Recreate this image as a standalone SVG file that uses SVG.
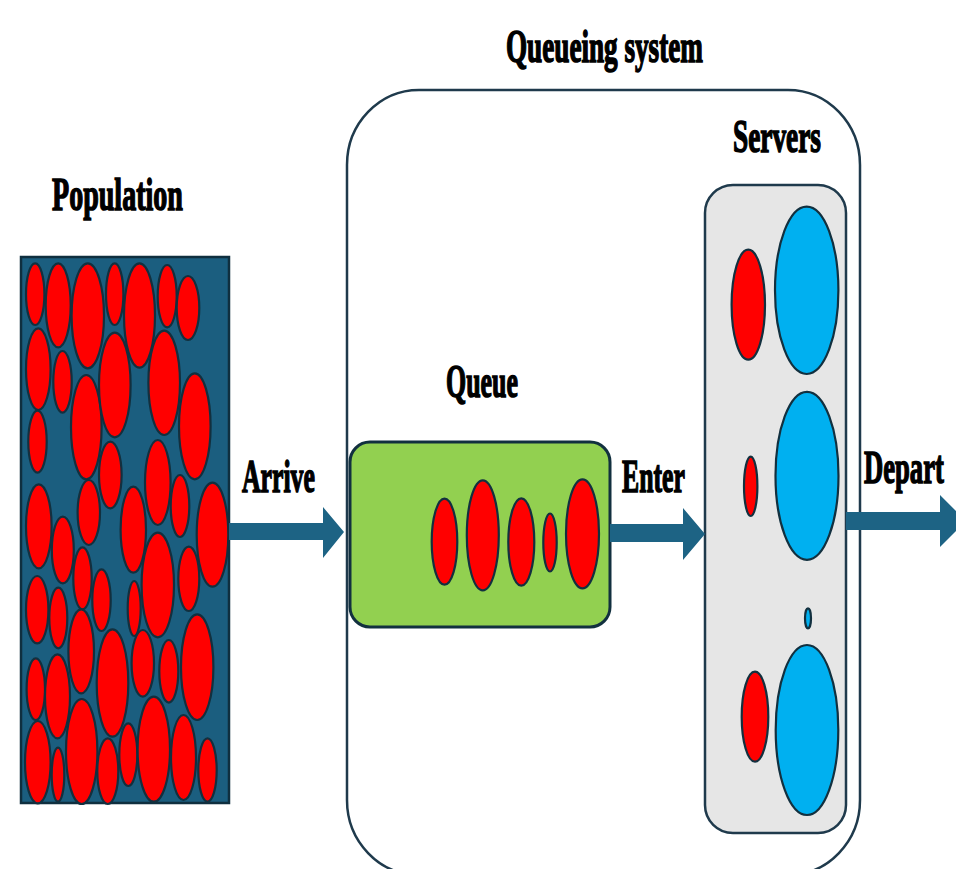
<svg xmlns="http://www.w3.org/2000/svg" width="956" height="869" viewBox="0 0 956 869">
<style>
.lbl{font-family:"Liberation Serif","DejaVu Serif",serif;font-weight:bold;font-size:47px;fill:#000;stroke:#000;stroke-width:1.6px}
.r{fill:#FF0000;stroke:#12303F;stroke-width:2.2}
.b{fill:#00B0F0;stroke:#12303F;stroke-width:2.2}
.arrow{fill:#1D6384}
</style>
<rect width="956" height="869" fill="#fff"/>
<g id="queueing-system">
<rect x="347" y="90" width="513" height="785" rx="72" ry="75" fill="#fff" stroke="#1F3A4C" stroke-width="2.5"/>
<text class="lbl" transform="translate(506,62) scale(0.578,1)">Queueing system</text>
</g>
<g id="population">
<rect x="21" y="257" width="208" height="546" fill="#1B5E7F" stroke="#0F2F3F" stroke-width="2.5"/>
<g>
<ellipse class="r" cx="35.2" cy="294.2" rx="9.2" ry="30.8"/>
<ellipse class="r" cx="58.2" cy="305.3" rx="12.5" ry="42"/>
<ellipse class="r" cx="87.8" cy="315.8" rx="16.2" ry="52.5"/>
<ellipse class="r" cx="114.7" cy="294.2" rx="8.7" ry="30.8"/>
<ellipse class="r" cx="139.5" cy="315.5" rx="15.5" ry="52.2"/>
<ellipse class="r" cx="167.2" cy="296.2" rx="9.5" ry="31.2"/>
<ellipse class="r" cx="188" cy="308" rx="11.3" ry="32"/>
<ellipse class="r" cx="38.3" cy="369.2" rx="12.3" ry="40.8"/>
<ellipse class="r" cx="62.5" cy="381.8" rx="9.2" ry="30.8"/>
<ellipse class="r" cx="86.3" cy="427.2" rx="15.3" ry="52.2"/>
<ellipse class="r" cx="114.8" cy="385" rx="15.8" ry="52.3"/>
<ellipse class="r" cx="164.2" cy="382.8" rx="15.8" ry="52.2"/>
<ellipse class="r" cx="194.8" cy="426.3" rx="15.8" ry="53"/>
<ellipse class="r" cx="37.5" cy="441.7" rx="9.2" ry="31"/>
<ellipse class="r" cx="110.3" cy="475" rx="11.3" ry="33.3"/>
<ellipse class="r" cx="157.8" cy="482.5" rx="12.8" ry="42.5"/>
<ellipse class="r" cx="180" cy="506" rx="9.3" ry="31"/>
<ellipse class="r" cx="212.5" cy="534.7" rx="15.8" ry="52"/>
<ellipse class="r" cx="38.8" cy="526.3" rx="12.8" ry="42"/>
<ellipse class="r" cx="62.8" cy="550" rx="11" ry="33.3"/>
<ellipse class="r" cx="88.8" cy="512.5" rx="11.2" ry="32.5"/>
<ellipse class="r" cx="133.3" cy="529.7" rx="12.7" ry="43"/>
<ellipse class="r" cx="82.5" cy="578.3" rx="9.2" ry="31"/>
<ellipse class="r" cx="37.2" cy="609.7" rx="11.2" ry="33.7"/>
<ellipse class="r" cx="58.3" cy="618" rx="9" ry="30.3"/>
<ellipse class="r" cx="101.5" cy="600.2" rx="9.2" ry="30.8"/>
<ellipse class="r" cx="134.2" cy="608.5" rx="6.5" ry="27.5"/>
<ellipse class="r" cx="157.8" cy="585" rx="16.2" ry="52.3"/>
<ellipse class="r" cx="188.8" cy="578.8" rx="10.5" ry="32.2"/>
<ellipse class="r" cx="81.2" cy="651.3" rx="12.8" ry="42"/>
<ellipse class="r" cx="112.5" cy="683" rx="15.8" ry="53.7"/>
<ellipse class="r" cx="142.8" cy="663.3" rx="11.2" ry="33.3"/>
<ellipse class="r" cx="168.8" cy="671.3" rx="9.5" ry="31.3"/>
<ellipse class="r" cx="197.2" cy="667.2" rx="16.2" ry="52.8"/>
<ellipse class="r" cx="35.8" cy="689.2" rx="9.2" ry="30.8"/>
<ellipse class="r" cx="57.5" cy="696.3" rx="12.5" ry="42"/>
<ellipse class="r" cx="37.8" cy="762.2" rx="12.8" ry="41.2"/>
<ellipse class="r" cx="58" cy="774.7" rx="6.3" ry="27"/>
<ellipse class="r" cx="81.7" cy="751.5" rx="15.7" ry="52.5"/>
<ellipse class="r" cx="107.8" cy="771.2" rx="10.5" ry="32.8"/>
<ellipse class="r" cx="128.3" cy="754.7" rx="9" ry="31.3"/>
<ellipse class="r" cx="153.8" cy="749.2" rx="16.2" ry="52.5"/>
<ellipse class="r" cx="183.5" cy="757.5" rx="12.5" ry="42.5"/>
<ellipse class="r" cx="207.5" cy="770" rx="9.2" ry="31.7"/>
</g>
<text class="lbl" transform="translate(52,210) scale(0.597,1)">Population</text>
</g>
<g id="queue">
<rect x="350" y="442" width="260" height="185" rx="20" ry="20" fill="#92D050" stroke="#12303F" stroke-width="3"/>
<ellipse class="r" cx="444.5" cy="541.7" rx="12.8" ry="43"/>
<ellipse class="r" cx="482.8" cy="535.3" rx="16" ry="55"/>
<ellipse class="r" cx="521.3" cy="542" rx="13" ry="43.7"/>
<ellipse class="r" cx="550" cy="542.5" rx="6.7" ry="29"/>
<ellipse class="r" cx="582.5" cy="533.8" rx="16.5" ry="54.5"/>
<text class="lbl" transform="translate(446,397) scale(0.551,1)">Queue</text>
</g>
<g id="servers">
<rect x="705" y="185" width="141" height="648" rx="28" ry="28" fill="#E6E6E6" stroke="#1F3A4C" stroke-width="2.5"/>
<ellipse class="r" cx="748.3" cy="304.7" rx="16.7" ry="55"/>
<ellipse class="b" cx="806.7" cy="290.3" rx="31.7" ry="83.7"/>
<ellipse class="b" cx="807" cy="475.8" rx="31.5" ry="84"/>
<ellipse class="r" cx="750.7" cy="486.3" rx="6.7" ry="29.7"/>
<ellipse class="b" cx="808" cy="618.3" rx="3" ry="10"/>
<ellipse class="r" cx="755" cy="716.7" rx="13.3" ry="45"/>
<ellipse class="b" cx="807" cy="730" rx="31.3" ry="85"/>
<text class="lbl" transform="translate(733,152) scale(0.581,1)">Servers</text>
</g>
<g id="connectors">
<polygon class="arrow" points="229,523 323,523 323,507 344,532 323,558 323,540 229,540"/>
<polygon class="arrow" points="610,524 683,524 683,508 705,534 683,560 683,542 610,542"/>
<polygon class="arrow" points="846,512 940,512 940,495 966,521 940,547 940,530 846,530"/>
<text class="lbl" transform="translate(242,492) scale(0.548,1)">Arrive</text>
<text class="lbl" transform="translate(622,492) scale(0.548,1)">Enter</text>
<text class="lbl" transform="translate(864,483) scale(0.567,1)">Depart</text>
</g>
</svg>
